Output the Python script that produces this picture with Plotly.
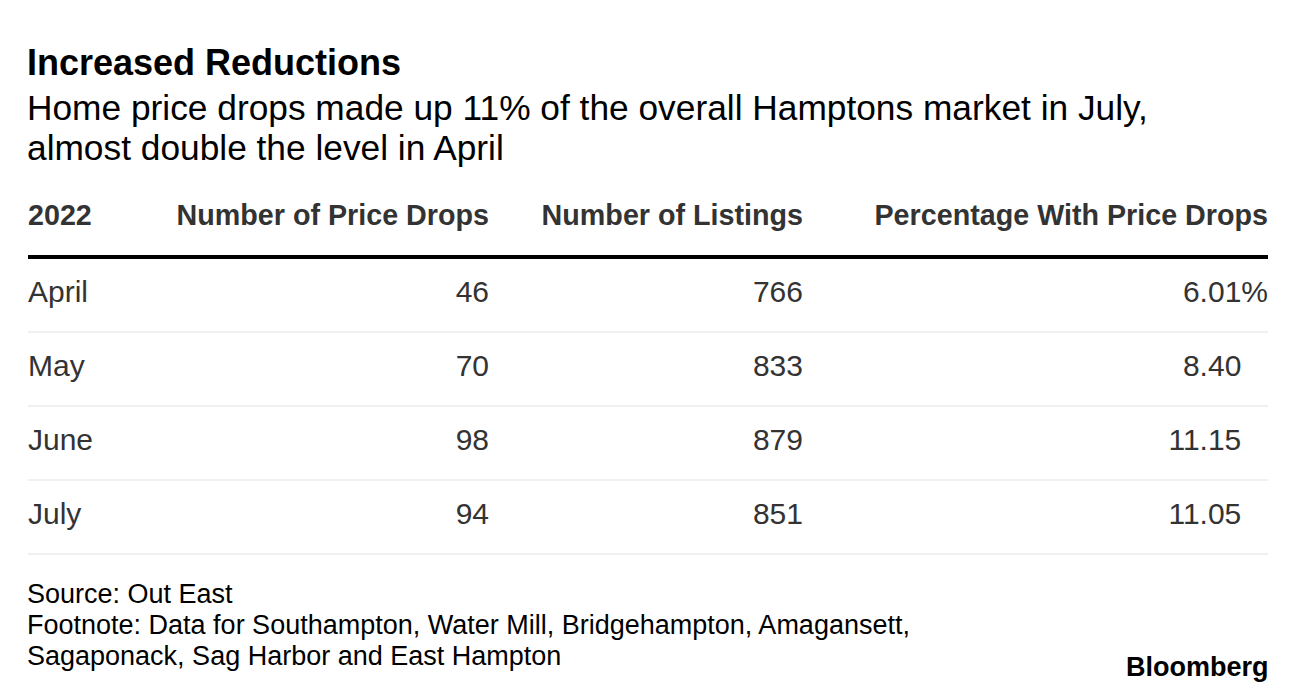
import plotly.graph_objects as go

# ---- data ----
months = ["April", "May", "June", "July"]
price_drops = [46, 70, 98, 94]
listings = [766, 833, 879, 851]
pct_drops = [6.01, 8.40, 11.15, 11.05]
headers = ["2022", "Number of Price Drops", "Number of Listings", "Percentage With Price Drops"]

title = "Increased Reductions"
subtitle_lines = ["Home price drops made up 11% of the overall Hamptons market in July,",
                  "almost double the level in April"]
footer_lines = ["Source: Out East",
                "Footnote: Data for Southampton, Water Mill, Bridgehampton, Amagansett,",
                "Sagaponack, Sag Harbor and East Hampton"]

W, H = 1296, 694
OFF = 8  # page body margin
FONT = "Liberation Sans, Arial, sans-serif"
LEFT, RIGHT = 28, 1268
PAD = 3  # annotation inner padding
col_right = [None, 489, 803, 1268]
header_y = 218
row_y0, row_step = 294, 74
row_ys = [row_y0 + i * row_step for i in range(len(months))]
body_color = "#333333"

fig = go.Figure()

hfont = dict(family=FONT, size=28.7, color=body_color, weight="bold")
fig.add_trace(go.Scatter(x=[LEFT], y=[header_y], text=[headers[0]], mode="text",
                         textposition="middle right", textfont=hfont,
                         hoverinfo="skip", showlegend=False))
fig.add_trace(go.Scatter(x=col_right[1:], y=[header_y] * 3, text=headers[1:], mode="text",
                         textposition="middle left", textfont=hfont,
                         hoverinfo="skip", showlegend=False))

bfont = dict(family=FONT, size=30, color=body_color)
fig.add_trace(go.Scatter(x=[LEFT] * len(months), y=row_ys, text=months, mode="text",
                         textposition="middle right", textfont=bfont,
                         hoverinfo="skip", showlegend=False))
fig.add_trace(go.Scatter(x=[col_right[1]] * len(months), y=row_ys,
                         text=[str(v) for v in price_drops], mode="text",
                         textposition="middle left", textfont=bfont,
                         hoverinfo="skip", showlegend=False))
fig.add_trace(go.Scatter(x=[col_right[2]] * len(months), y=row_ys,
                         text=[str(v) for v in listings], mode="text",
                         textposition="middle left", textfont=bfont,
                         hoverinfo="skip", showlegend=False))
pct_text = []
for i, v in enumerate(pct_drops):
    if i == 0:
        pct_text.append(f"{v:.2f}%")
    else:
        pct_text.append(f"{v:.2f}<span style='color:rgba(0,0,0,0)'>%</span>")
fig.add_trace(go.Scatter(x=[col_right[3]] * len(months), y=row_ys, text=pct_text, mode="text",
                         textposition="middle left", textfont=bfont,
                         hoverinfo="skip", showlegend=False))

shapes = [dict(type="line", xref="x", yref="y", x0=LEFT, x1=RIGHT, y0=257, y1=257,
               line=dict(color="#000000", width=4))]
for y in row_ys:
    shapes.append(dict(type="line", xref="x", yref="y", x0=LEFT, x1=RIGHT,
                       y0=y + 38, y1=y + 38, line=dict(color="#ececec", width=1.5)))

annotations = [
    dict(x=LEFT - PAD, y=62, text=f"<b>{title}</b>", showarrow=False, xanchor="left",
         yanchor="middle", font=dict(family=FONT, size=36, color="#000000")),
]
for i, line in enumerate(subtitle_lines):
    annotations.append(dict(x=LEFT - PAD, y=107 + 40 * i, text=line, showarrow=False,
                            xanchor="left", yanchor="middle",
                            font=dict(family=FONT, size=35.3, color="#000000")))
for i, line in enumerate(footer_lines):
    annotations.append(dict(x=LEFT - PAD, y=594 + 31 * i, text=line, showarrow=False,
                            xanchor="left", yanchor="middle",
                            font=dict(family=FONT, size=27, color="#000000")))
annotations.append(dict(x=RIGHT + PAD, y=667, text="<b>Bloomberg</b>", showarrow=False,
                        xanchor="right", yanchor="middle",
                        font=dict(family=FONT, size=27, color="#000000")))

fig.update_layout(
    width=W - OFF, height=H - OFF,
    margin=dict(l=0, r=0, t=0, b=0),
    paper_bgcolor="white", plot_bgcolor="white",
    xaxis=dict(range=[OFF, W], visible=False, fixedrange=True),
    yaxis=dict(range=[H, OFF], visible=False, fixedrange=True),
    shapes=shapes, annotations=annotations,
)

fig.write_html("out.html")
